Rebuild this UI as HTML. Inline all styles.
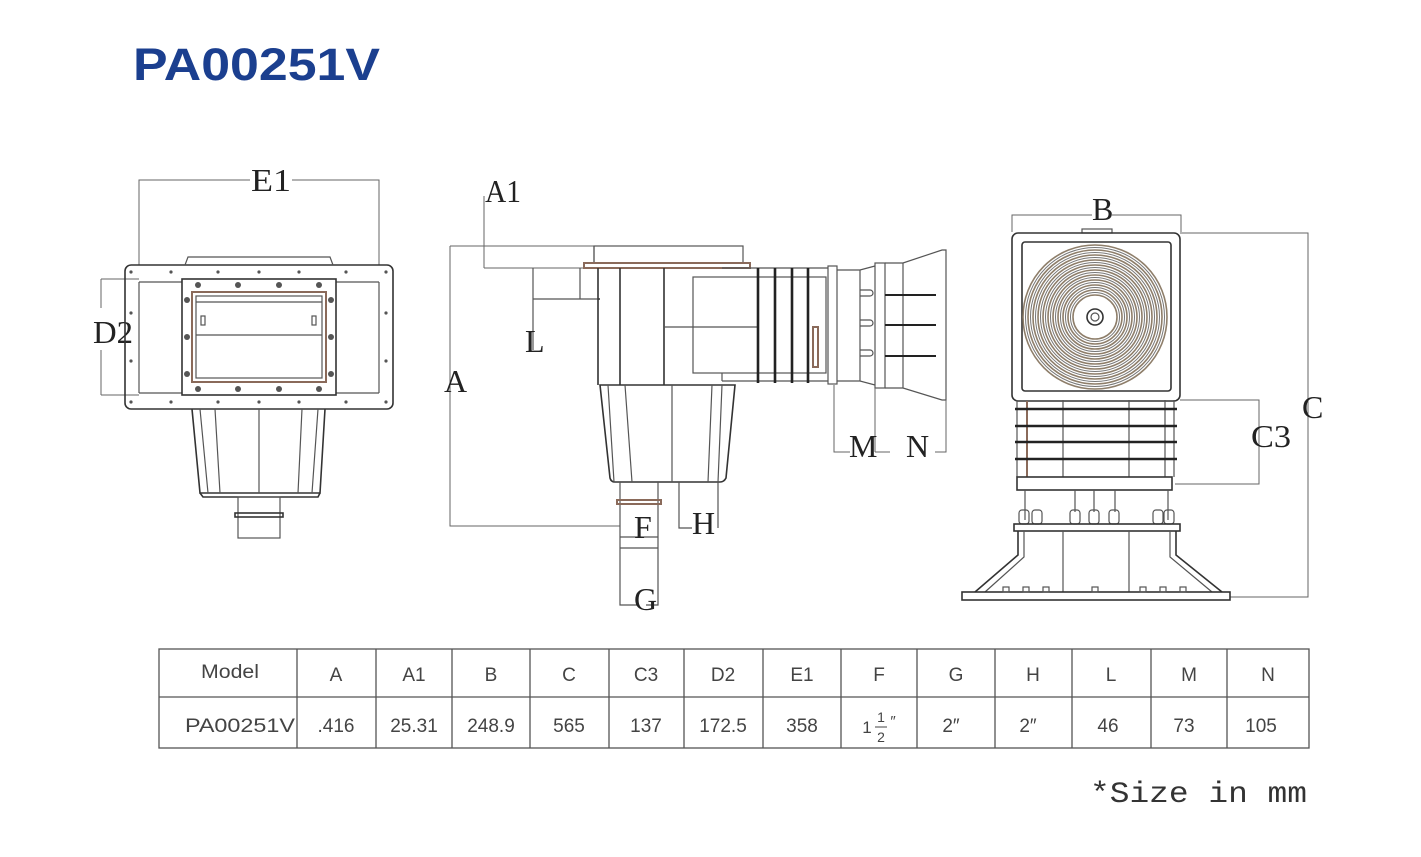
<!DOCTYPE html>
<html><head><meta charset="utf-8"><style>
html,body{margin:0;padding:0;background:#fff;}
svg{display:block}
.l{stroke:#555;stroke-width:1.2;fill:none}
.t{stroke:#333;stroke-width:1.6;fill:none}
.k{stroke:#222;stroke-width:2.6;fill:none}
.br{stroke:#8a6a5a;stroke-width:2;fill:none}
.d{stroke:#666;stroke-width:1;fill:none}
.lab{font-family:"Liberation Serif",serif;font-size:32px;fill:#222}
.tb{font-family:"Liberation Sans",sans-serif;font-size:19px;fill:#444}
</style></head><body>
<svg width="1421" height="857" viewBox="0 0 1421 857" xmlns="http://www.w3.org/2000/svg">
<text x="133" y="80" font-family="Liberation Sans,sans-serif" font-weight="bold" font-size="45" fill="#1b3f8f" textLength="247" lengthAdjust="spacingAndGlyphs">PA00251V</text>

<!-- LEFT VIEW -->
<path class="d" d="M139 265 V180 H250 M292 180 H379 V265"/>
<text class="lab" x="251" y="191" textLength="40" lengthAdjust="spacingAndGlyphs">E1</text>
<path class="d" d="M101 279 V308 M101 350 V395 M101 279 H139 M101 395 H139"/>
<text class="lab" x="93" y="343" textLength="40" lengthAdjust="spacingAndGlyphs">D2</text>
<rect class="t" x="125" y="265" width="268" height="144" rx="6"/>
<path class="l" d="M185 265 L188 257 H330 L333 265"/>
<path class="l" d="M139 282 H182 M336 282 H379 M139 393 H182 M336 393 H379 M139 282 V393 M379 282 V393"/>
<rect class="t" x="182" y="279" width="154" height="116"/>
<rect class="br" x="192" y="292" width="134" height="90"/>
<rect class="l" x="196" y="296" width="126" height="82"/>
<path class="l" d="M196 302 H322 M196 335 H322"/>
<rect class="l" x="201" y="316" width="4" height="9"/><rect class="l" x="312" y="316" width="4" height="9"/>
<g fill="#555">
<circle cx="131" cy="272" r="1.6"/><circle cx="171" cy="272" r="1.6"/><circle cx="218" cy="272" r="1.6"/><circle cx="259" cy="272" r="1.6"/><circle cx="299" cy="272" r="1.6"/><circle cx="346" cy="272" r="1.6"/><circle cx="386" cy="272" r="1.6"/>
<circle cx="131" cy="402" r="1.6"/><circle cx="171" cy="402" r="1.6"/><circle cx="218" cy="402" r="1.6"/><circle cx="259" cy="402" r="1.6"/><circle cx="299" cy="402" r="1.6"/><circle cx="346" cy="402" r="1.6"/><circle cx="386" cy="402" r="1.6"/>
<circle cx="131" cy="313" r="1.6"/><circle cx="131" cy="361" r="1.6"/><circle cx="386" cy="313" r="1.6"/><circle cx="386" cy="361" r="1.6"/>
<circle cx="198" cy="285" r="3"/><circle cx="238" cy="285" r="3"/><circle cx="279" cy="285" r="3"/><circle cx="319" cy="285" r="3"/>
<circle cx="198" cy="389" r="3"/><circle cx="238" cy="389" r="3"/><circle cx="279" cy="389" r="3"/><circle cx="319" cy="389" r="3"/>
<circle cx="187" cy="300" r="3"/><circle cx="187" cy="337" r="3"/><circle cx="187" cy="374" r="3"/>
<circle cx="331" cy="300" r="3"/><circle cx="331" cy="337" r="3"/><circle cx="331" cy="374" r="3"/>
</g>
<path class="t" d="M192 409 L200 493 H320 L325 409"/>
<path class="l" d="M200 409 L208 493 M215 409 L220 493 M259 409 V493 M302 409 L298 493 M318 409 L312 493"/>
<path class="t" d="M200 493 L203 497 H318 L320 493"/>
<rect class="l" x="238" y="497" width="42" height="41"/>
<rect class="t" x="235" y="513" width="48" height="4"/>

<!-- MIDDLE VIEW -->
<path class="d" d="M484 268 V196"/>
<text class="lab" x="485" y="202" textLength="36" lengthAdjust="spacingAndGlyphs">A1</text>
<path class="d" d="M450 246 H594 M450 246 V526 H620"/>
<text class="lab" x="444" y="392">A</text>
<rect class="l" x="594" y="246" width="149" height="17"/>
<path class="l" d="M594 246 V263"/>
<path class="d" d="M484 268 H584"/>
<rect class="br" x="584" y="263" width="166" height="5"/>
<path class="l" d="M533 268 V350 M533 299 H598 M580 268 V299"/>
<text class="lab" x="525" y="352">L</text>
<path class="t" d="M598 268 V385 M620 268 V385 M664 268 V385 M598 299 H600"/>
<path class="l" d="M664 327 H758"/>
<path class="t" d="M600 385 H735 L726 478 Q724 482 720 482 H615 Q611 482 610 478 Z"/>
<path class="l" d="M608 385 L614 482 M625 385 L632 482 M672 385 V482 M712 385 L708 482 M722 385 L718 482"/>
<path class="l" d="M620 482 V605 H637 M658 482 V605 H646 M620 537 H658 M620 548 H658"/>
<rect class="br" x="617" y="500" width="44" height="4"/>
<text class="lab" x="634" y="538">F</text>
<text class="lab" x="634" y="610">G</text>
<path class="l" d="M679 482 V528 H692 M718 482 V528"/>
<text class="lab" x="692" y="534">H</text>
<rect class="l" x="693" y="277" width="133" height="96"/>
<path class="l" d="M722 268 H828 M722 381 H828 M722 373 V381"/>
<path class="k" d="M758 268 V383 M775 268 V383 M792 268 V383 M808 268 V383"/>
<rect class="br" x="813" y="327" width="5" height="40"/>
<rect class="l" x="828" y="266" width="9" height="118"/>
<path class="l" d="M837 270 H860 L875 266 M837 381 H860 L875 385 M860 270 V381"/>
<g class="l"><path d="M860 290 h10 a3 3 0 0 1 0 6 h-10 M860 320 h10 a3 3 0 0 1 0 6 h-10 M860 350 h10 a3 3 0 0 1 0 6 h-10"/></g>
<rect class="l" x="875" y="263" width="10" height="125"/>
<path class="l" d="M885 263 H903 L942 250 H946 V400 H942 L903 388 H885 M903 263 V388"/>
<path class="k" style="stroke-width:2" d="M885 295 H936 M885 325 H936 M885 356 H936"/>
<path class="d" d="M834 385 V452 H850 M875 388 V452 M875 452 H890 M946 400 V452 H935"/>
<text class="lab" x="849" y="457">M</text>
<text class="lab" x="906" y="457">N</text>

<!-- RIGHT VIEW -->
<path class="d" d="M1012 232 V215 H1092 M1112 215 H1181 V232"/>
<text class="lab" x="1092" y="220">B</text>
<rect x="1082" y="229" width="30" height="4" class="l"/>
<rect class="t" x="1012" y="233" width="168" height="168" rx="6"/>
<rect class="t" x="1022" y="242" width="149" height="149" rx="3"/>
<g fill="none" stroke="#8e7e6a" stroke-width="1.6">
<circle cx="1095" cy="317" r="72"/><circle cx="1095" cy="317" r="67"/><circle cx="1095" cy="317" r="62"/><circle cx="1095" cy="317" r="57"/><circle cx="1095" cy="317" r="52"/><circle cx="1095" cy="317" r="47"/><circle cx="1095" cy="317" r="42"/><circle cx="1095" cy="317" r="37"/><circle cx="1095" cy="317" r="32"/><circle cx="1095" cy="317" r="27"/><circle cx="1095" cy="317" r="22"/>
</g>
<g fill="none" stroke="#777" stroke-width="1">
<circle cx="1095" cy="317" r="69.5"/><circle cx="1095" cy="317" r="64.5"/><circle cx="1095" cy="317" r="59.5"/><circle cx="1095" cy="317" r="54.5"/><circle cx="1095" cy="317" r="49.5"/><circle cx="1095" cy="317" r="44.5"/><circle cx="1095" cy="317" r="39.5"/><circle cx="1095" cy="317" r="34.5"/><circle cx="1095" cy="317" r="29.5"/><circle cx="1095" cy="317" r="24.5"/>
</g>
<circle cx="1095" cy="317" r="18" fill="#fff"/>
<circle cx="1095" cy="317" r="8" class="t"/><circle cx="1095" cy="317" r="4" class="l"/>
<path class="d" d="M1180 233 H1308 V597 H1230"/>
<text class="lab" x="1302" y="418">C</text>
<path class="d" d="M1180 400 H1259 V484 H1175"/>
<text class="lab" x="1251" y="447" textLength="40" lengthAdjust="spacingAndGlyphs">C3</text>
<path class="l" d="M1017 400 V477 M1174 400 V477 M1063 400 V477 M1129 400 V477 M1165 400 V477"/>
<path class="br" d="M1027 401 V477"/>
<path class="k" d="M1015 409 H1177 M1015 426 H1177 M1015 442 H1177 M1015 459 H1177"/>
<rect class="t" x="1017" y="477" width="155" height="13"/>
<path class="l" d="M1025 490 V520 M1168 490 V520 M1075 490 V512 M1094 490 V512 M1115 490 V512"/>
<g class="l"><rect x="1070" y="510" width="10" height="14" rx="3"/><rect x="1089" y="510" width="10" height="14" rx="3"/><rect x="1109" y="510" width="10" height="14" rx="3"/><rect x="1019" y="510" width="10" height="14" rx="3"/><rect x="1032" y="510" width="10" height="14" rx="3"/><rect x="1153" y="510" width="10" height="14" rx="3"/><rect x="1164" y="510" width="10" height="14" rx="3"/></g>
<rect class="t" x="1014" y="524" width="166" height="7"/>
<path class="t" d="M1018 531 V555 L975 592 M1176 531 V555 L1222 592"/>
<path class="l" d="M1024 531 V557 L985 592 M1170 531 V557 L1212 592 M1063 531 V592 M1129 531 V592"/>
<rect class="t" x="962" y="592" width="268" height="8"/>
<g class="l"><rect x="1003" y="587" width="6" height="5"/><rect x="1023" y="587" width="6" height="5"/><rect x="1043" y="587" width="6" height="5"/><rect x="1092" y="587" width="6" height="5"/><rect x="1140" y="587" width="6" height="5"/><rect x="1160" y="587" width="6" height="5"/><rect x="1180" y="587" width="6" height="5"/></g>

<!-- TABLE -->
<g stroke="#555" stroke-width="1.3" fill="none">
<rect x="159" y="649" width="1150" height="99"/>
<path d="M159 697 H1309 M297 649 V748 M376 649 V748 M452 649 V748 M530 649 V748 M609 649 V748 M684 649 V748 M763 649 V748 M841 649 V748 M917 649 V748 M995 649 V748 M1072 649 V748 M1151 649 V748 M1227 649 V748"/>
</g>
<g class="tb" text-anchor="middle">
<text x="230" y="678" textLength="58" lengthAdjust="spacingAndGlyphs">Model</text>
<text x="336" y="681">A</text><text x="414" y="681">A1</text><text x="491" y="681">B</text><text x="569" y="681">C</text><text x="646" y="681">C3</text><text x="723" y="681">D2</text><text x="802" y="681">E1</text><text x="879" y="681">F</text><text x="956" y="681">G</text><text x="1033" y="681">H</text><text x="1111" y="681">L</text><text x="1189" y="681">M</text><text x="1268" y="681">N</text>
<text x="240" y="732" textLength="110" lengthAdjust="spacingAndGlyphs">PA00251V</text>
<text x="336" y="732">.416</text><text x="414" y="732">25.31</text><text x="491" y="732">248.9</text><text x="569" y="732">565</text><text x="646" y="732">137</text><text x="723" y="732">172.5</text><text x="802" y="732">358</text>
<text x="867" y="733" font-size="17">1</text><text x="881" y="722" font-size="14">1</text><text x="881" y="742" font-size="14">2</text><text x="893" y="726" font-size="15">″</text>
<path d="M875 727 H887" stroke="#444" stroke-width="1"/>
<text x="951" y="732">2″</text><text x="1028" y="732">2″</text><text x="1108" y="732">46</text><text x="1184" y="732">73</text><text x="1261" y="732">105</text>
</g>
<text x="1090" y="802" font-family="Liberation Mono,monospace" font-size="30" fill="#333" textLength="217" lengthAdjust="spacingAndGlyphs">*Size in mm</text>
</svg>
</body></html>
